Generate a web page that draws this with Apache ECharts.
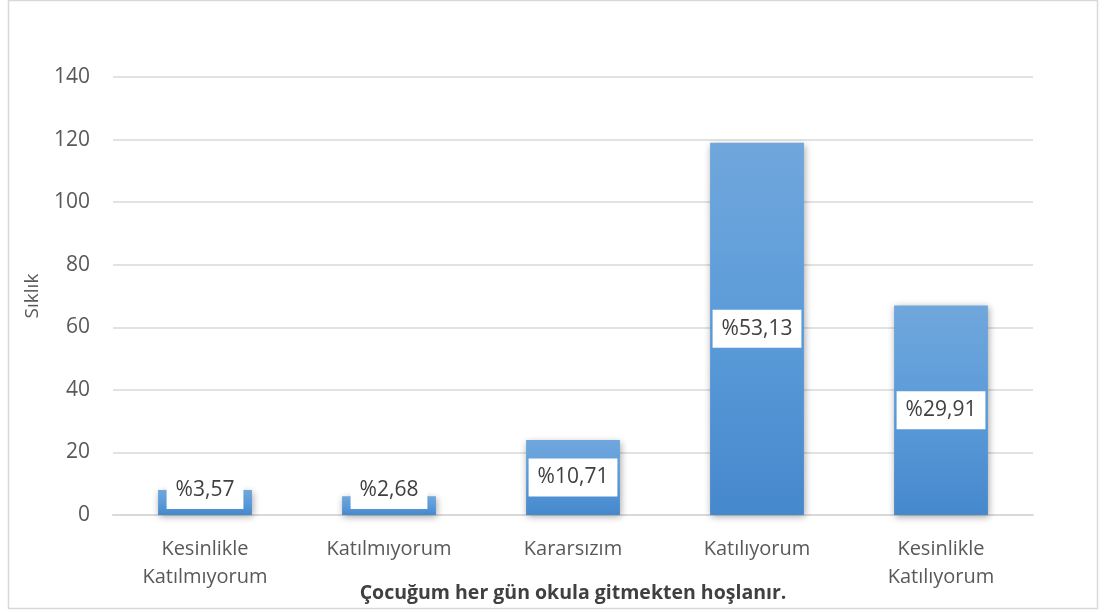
<!DOCTYPE html>
<html><head><meta charset="utf-8">
<script src="https://cdn.jsdelivr.net/npm/echarts@6/dist/echarts.min.js"></script>
<style>html,body{margin:0;padding:0;background:#fff}#c{width:1105px;height:612px}</style>
</head><body><div id="c"></div>
<script>
const categories = ['Kesinlikle\nKatılmıyorum', 'Katılmıyorum', 'Kararsızım', 'Katılıyorum', 'Kesinlikle\nKatılıyorum'];
const values = [8, 6, 24, 119, 67];
const percentLabels = ['%3,57', '%2,68', '%10,71', '%53,13', '%29,91'];
const yTicks = [0, 20, 40, 60, 80, 100, 120, 140];
const xTitle = 'Çocuğum her gün okula gitmekten hoşlanır.';
const yTitle = 'Sıklık';

const FONT = '"Open Sans", "DejaVu Sans", sans-serif';
const chart = echarts.init(document.getElementById('c'));
const data = values.map((v, i) => {
  const small = v < 15;
  return {
    value: v,
    label: small ? { position: 'insideBottom', distance: 6 } : { position: 'inside' }
  };
});
chart.setOption({
  animation: false,
  graphic: [{
    type: 'rect', shape: { x: 8.5, y: 0.5, width: 1089, height: 608 },
    style: { fill: 'none', stroke: '#d9d9d9', lineWidth: 1.5 }, z: -1
  }],
  grid: { left: 113, right: 72, top: 77, bottom: 97, outerBoundsMode: 'none', containLabel: false },
  xAxis: {
    type: 'category', data: categories,
    name: xTitle, nameLocation: 'middle', nameGap: 68, nameMoveOverlap: false,
    nameTextStyle: { fontFamily: FONT, fontSize: 19.5, fontWeight: 'bold', color: '#404040' },
    axisLine: { lineStyle: { color: '#d9d9d9', width: 2 } },
    axisTick: { show: false },
    axisLabel: { fontFamily: FONT, fontSize: 20, color: '#595959', margin: 20, lineHeight: 28 }
  },
  yAxis: {
    type: 'value', min: yTicks[0], max: yTicks[yTicks.length - 1], interval: 20,
    name: yTitle, nameLocation: 'middle', nameGap: 71, nameRotate: 90, nameMoveOverlap: false,
    nameTextStyle: { fontFamily: FONT, fontSize: 19, color: '#595959' },
    axisLine: { show: false }, axisTick: { show: false },
    axisLabel: { fontFamily: FONT, fontSize: 21, color: '#595959', margin: 23 },
    splitLine: { lineStyle: { color: '#d9d9d9', width: 1.5 } }
  },
  series: [{
    type: 'bar', data: data, barCategoryGap: '49%',
    itemStyle: {
      color: new echarts.graphic.LinearGradient(0, 0, 0, 1, [
        { offset: 0, color: '#70a7dc' }, { offset: 0.5, color: '#5b9bd9' }, { offset: 1, color: '#4588cc' }
      ]),
      shadowBlur: 7, shadowColor: 'rgba(0,0,0,0.35)', shadowOffsetX: 1, shadowOffsetY: 2
    },
    label: {
      show: true,
      formatter: p => percentLabels[p.dataIndex],
      fontFamily: FONT, fontSize: 21, color: '#404040',
      backgroundColor: '#ffffff', padding: [9, 9, 8, 9]
    }
  }]
});
</script></body></html>
